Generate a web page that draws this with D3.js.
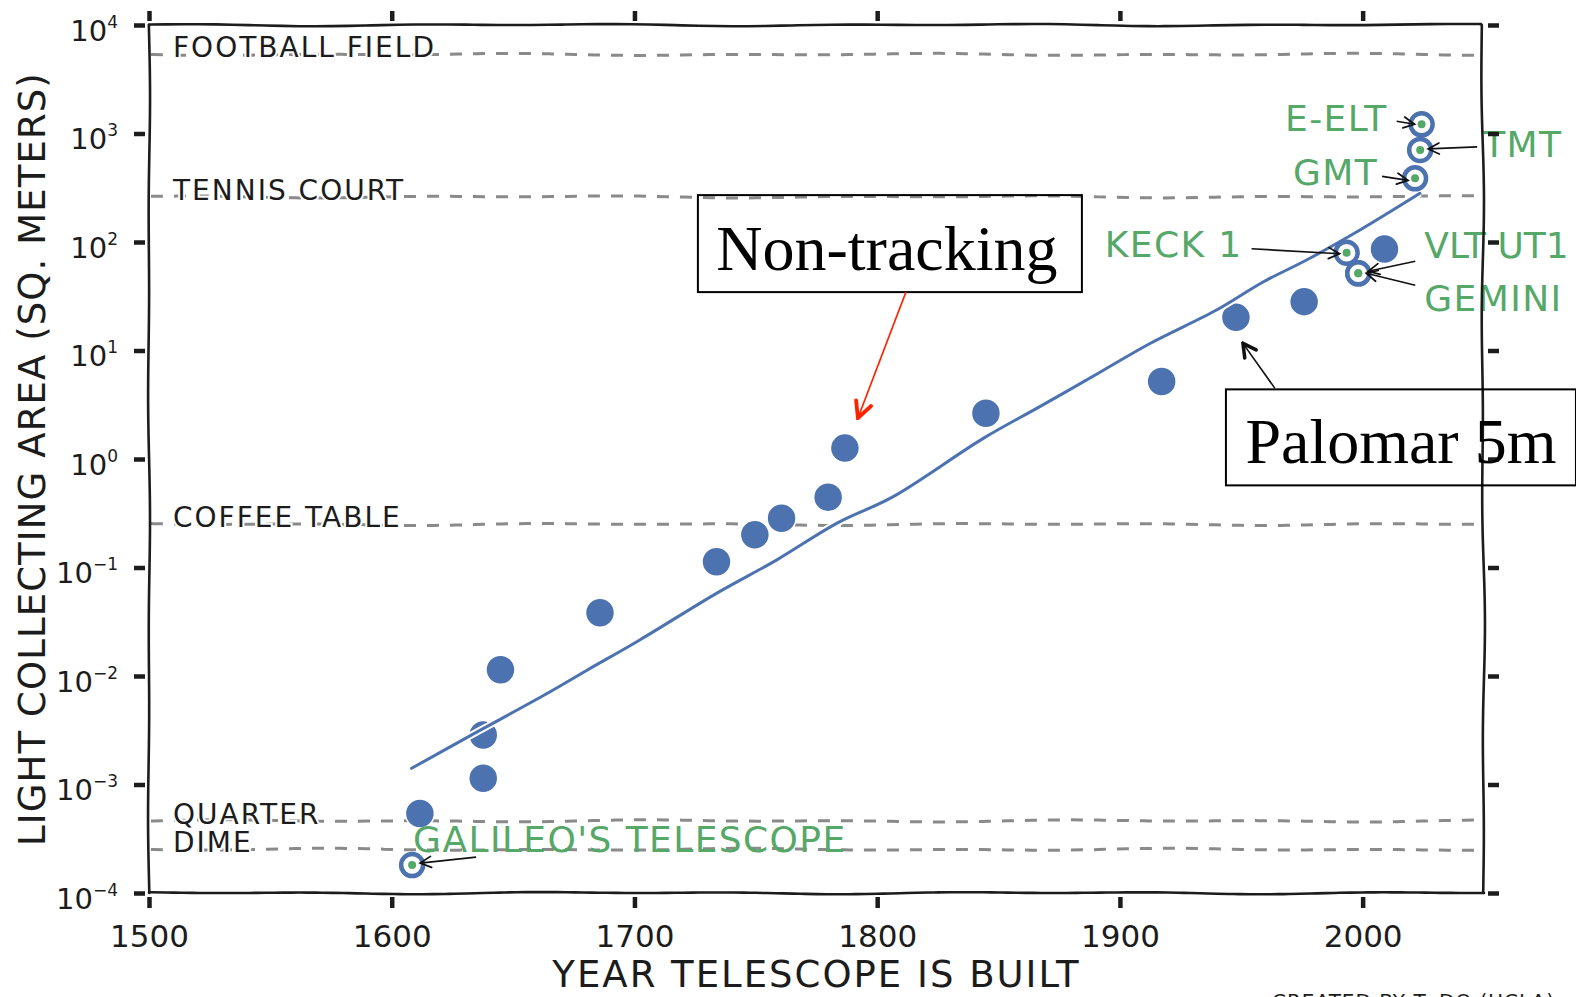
<!DOCTYPE html>
<html>
<head>
<meta charset="utf-8">
<script src="https://cdn.jsdelivr.net/npm/d3@7"></script>
<style>
  html, body { margin: 0; padding: 0; background: #fff; overflow: hidden; }
  svg { display: block; }
</style>
</head>
<body>
<div class="chart-section"></div>
<script>
const width = 1576, height = 997;
const marginLeft = 149, marginRight = 92, marginTop = 25, marginBottom = 104;

// telescopes shown as plain dots
const dotYears = [1611.6, 1637.7, 1637.7, 1644.8, 1685.8, 1733.8, 1749.6, 1760.6, 1779.8, 1786.7, 1844.8, 1917.2, 1947.8, 1975.9, 2009];
const dotAreas = [5.4e-4, 2.86e-3, 1.14e-3, 0.0114, 0.0383, 0.113, 0.2, 0.284, 0.444, 1.26, 2.64, 5.17, 20.2, 28.2, 86];

// trend line
const fitYears = [1608.2, 1636.3, 1663.8, 1680.3, 1702.2, 1733.8, 1758.5, 1783.3, 1806.6, 1843.7, 1867.0, 1891.8, 1912.4, 1939.8, 1959.0, 1976.9, 1998.9, 2023.6];
const fitAreas = [1.41e-3, 3.15e-3, 6.86e-3, 0.01125, 0.0215, 0.0578, 0.117, 0.255, 0.45, 1.55, 3.04, 6.3, 11.6, 23.6, 42.8, 68.2, 129, 281];

// reference areas
const refNames = ["FOOTBALL FIELD", "TENNIS COURT", "COFFEE TABLE", "QUARTER", "DIME"];
const refAreas = [5350, 261, 0.25, 4.62e-4, 2.52e-4];

// highlighted telescopes
const namedLabels = ["GALILEO'S TELESCOPE", "E-ELT", "TMT", "GMT", "KECK 1", "VLT UT1", "GEMINI"];
const namedYears = [1608.4, 2024.3, 2023.7, 2021.6, 1993.4, 1998.2, 1998.2];
const namedAreas = [1.81e-4, 1216, 705, 386, 79.6, 51.5, 51.5];

// boxed callouts
const boxLabels = ["Non-tracking", "Palomar 5m"];
const boxYears = [1786.7, 1947.8];
const boxAreas = [1.26, 20.2];

const xTicks = [1500, 1600, 1700, 1800, 1900, 2000];
const yExponents = [-4, -3, -2, -1, 0, 1, 2, 3, 4];
const xTitle = "YEAR TELESCOPE IS BUILT";
const yTitle = "LIGHT COLLECTING AREA (SQ. METERS)";
const credit = "CREATED BY T. DO (UCLA)";

const blue = "#4c72b0", green = "#55a868", ink = "#1c1c1c";
const hand = "'DejaVu Sans', sans-serif";

// label placement (pixel offsets from the marked point)
const calloutLayout = {
  "GALILEO'S TELESCOPE": { tx: 1, ty: -13, anchor: "start", from: [64, -8], to: [8, -2] },
  "E-ELT": { tx: -34, ty: 7, anchor: "end", from: [-25, -3], to: [-7, 0] },
  "TMT": { tx: 63, ty: 7, anchor: "start", from: [57, -3], to: [8, -1] },
  "GMT": { tx: -37, ty: 7, anchor: "end", from: [-33, -2], to: [-7, 2] },
  "KECK 1": { tx: -104, ty: 4, anchor: "end", from: [-95, -4], to: [-7, 1] },
  "VLT UT1": { tx: 66, ty: -15, anchor: "start", from: [57, -12], to: [10, -2] },
  "GEMINI": { tx: 66, ty: 38, anchor: "start", from: [57, 12], to: [8, 0] },
};
const boxLayout = {
  "Non-tracking": { x: -147, y: -253, w: 384, h: 97, tx: 42, ty: -178, from: [61, -156], to: [13, -30], color: "#ff2200", head: "head-red" },
  "Palomar 5m": { x: -10, y: 72, w: 350, h: 96, tx: 165, ty: 146, from: [39, 71], to: [7, 26], color: "#111", head: "head-black-big" },
};

const x = d3.scaleLinear().domain([1500, 2050]).range([marginLeft, width - marginRight]);
const y = d3.scaleLog().domain([1e-4, 1e4]).range([height - marginBottom, marginTop]);

const svg = d3.select(".chart-section").append("svg")
  .attr("width", width).attr("height", height);

const defs = svg.append("defs");
const addHead = (id, d, color, sw, size) => {
  defs.append("marker")
    .attr("id", id)
    .attr("viewBox", `${-size} ${-size / 2} ${size + 2} ${size}`)
    .attr("refX", 0).attr("refY", 0)
    .attr("markerWidth", size + 2).attr("markerHeight", size)
    .attr("markerUnits", "userSpaceOnUse")
    .attr("orient", "auto")
    .append("path").attr("d", d)
    .attr("fill", "none").attr("stroke", color)
    .attr("stroke-width", sw).attr("stroke-linecap", "round");
};
addHead("head-black", "M-11,-5.5L0,0L-11,5.5", "#111", 1.7, 14);
addHead("head-black-big", "M-13,-7L0,0L-13,7", "#111", 3.5, 20);
addHead("head-red", "M-16,-8L0,0L-16,8", "#ff2200", 3.8, 24);

// hand drawn wobble between two points
const wobble = (x1, y1, x2, y2, amp, seed) => {
  const len = Math.hypot(x2 - x1, y2 - y1);
  const nx = -(y2 - y1) / len, ny = (x2 - x1) / len;
  const pts = d3.range(81).map((i) => {
    const t = i / 80;
    const o = amp * Math.sin(t * len / 45 + seed) * Math.cos(t * len / 130 + seed * 2);
    return [x1 + (x2 - x1) * t + nx * o, y1 + (y2 - y1) * t + ny * o];
  });
  return d3.line().curve(d3.curveBasis)(pts);
};

const x0 = x.range()[0], x1 = x.range()[1];
const yTop = y.range()[1], yBot = y.range()[0];

// reference dashed lines
const refs = refNames.map((name, i) => ({ name, area: refAreas[i] }));
svg.append("g").selectAll("path").data(refs).enter().append("path")
  .attr("d", (d, i) => wobble(x0 + 2, y(d.area), x1 - 3, y(d.area), 1.2, i))
  .attr("fill", "none").attr("stroke", "#8a8a8a")
  .attr("stroke-width", 3).attr("stroke-dasharray", "12,11");

svg.append("g").selectAll("text").data(refs).enter().append("text")
  .attr("x", x0 + 24).attr("y", (d) => y(d.area) + 3)
  .attr("font-family", hand).attr("font-size", 28).attr("letter-spacing", 2)
  .attr("fill", ink).attr("stroke", "#fff").attr("stroke-width", 4)
  .attr("paint-order", "stroke")
  .text((d) => d.name);

// dots
const dots = dotYears.map((yr, i) => ({ year: yr, area: dotAreas[i] }));
svg.append("g").selectAll("circle").data(dots).enter().append("circle")
  .attr("cx", (d) => x(d.year)).attr("cy", (d) => y(d.area))
  .attr("r", 14.5).attr("fill", blue)
  .attr("stroke", "#fff").attr("stroke-width", 1.5);

// trend line
const fit = fitYears.map((yr, i) => [x(yr), y(fitAreas[i])]);
const fitLine = d3.line().curve(d3.curveCatmullRom);
svg.append("path").attr("d", fitLine(fit))
  .attr("fill", "none").attr("stroke", "#fff").attr("stroke-width", 7);
svg.append("path").attr("d", fitLine(fit))
  .attr("fill", "none").attr("stroke", blue).attr("stroke-width", 3)
  .attr("stroke-linecap", "round");

// highlighted telescopes
const named = namedLabels.map((label, i) => ({
  label, px: x(namedYears[i]), py: y(namedAreas[i]), lay: calloutLayout[label],
}));
const rings = svg.append("g");
rings.selectAll("circle.ring").data(named).enter().append("circle")
  .attr("class", "ring")
  .attr("cx", (d) => d.px).attr("cy", (d) => d.py).attr("r", 11)
  .attr("fill", "#fff").attr("stroke", blue).attr("stroke-width", 4.5);
rings.selectAll("circle.core").data(named).enter().append("circle")
  .attr("class", "core")
  .attr("cx", (d) => d.px).attr("cy", (d) => d.py).attr("r", 4)
  .attr("fill", green);

const callouts = svg.append("g");
callouts.selectAll("line").data(named).enter().append("line")
  .attr("x1", (d) => d.px + d.lay.from[0]).attr("y1", (d) => d.py + d.lay.from[1])
  .attr("x2", (d) => d.px + d.lay.to[0]).attr("y2", (d) => d.py + d.lay.to[1])
  .attr("stroke", "#111").attr("stroke-width", 1.7)
  .attr("marker-end", "url(#head-black)");
callouts.selectAll("text").data(named).enter().append("text")
  .attr("x", (d) => d.px + d.lay.tx).attr("y", (d) => d.py + d.lay.ty)
  .attr("text-anchor", (d) => d.lay.anchor)
  .attr("font-family", hand).attr("font-size", 36)
  .attr("letter-spacing", (d) => (d.label === "VLT UT1" ? 0 : 1.4))
  .attr("fill", green)
  .text((d) => d.label);

// axes: ticks on all four sides
const tickStyle = (g) => {
  g.select(".domain").remove();
  g.selectAll(".tick line").attr("stroke", ink).attr("stroke-width", 4.5);
};

const xAxisB = svg.append("g").attr("transform", `translate(0,${yBot})`)
  .call(d3.axisBottom(x).tickValues(xTicks).tickFormat(d3.format("d")));
tickStyle(xAxisB);
xAxisB.selectAll(".tick line").attr("y1", 4).attr("y2", 15);
xAxisB.selectAll(".tick text")
  .attr("y", 54).attr("dy", 0)
  .attr("font-family", hand).attr("font-size", 31).attr("fill", ink);

const xAxisT = svg.append("g").attr("transform", `translate(0,${yTop})`)
  .call(d3.axisTop(x).tickValues(xTicks).tickFormat(""));
tickStyle(xAxisT);
xAxisT.selectAll(".tick line").attr("y1", -4).attr("y2", -14);

const yVals = yExponents.map((e) => Math.pow(10, e));
const yAxisL = svg.append("g").attr("transform", `translate(${x0},0)`)
  .call(d3.axisLeft(y).tickValues(yVals).tickFormat(""));
tickStyle(yAxisL);
yAxisL.selectAll(".tick line").attr("x1", -4).attr("x2", -15);
yAxisL.selectAll(".tick text").each(function (d) {
  const t = d3.select(this)
    .attr("x", -31).attr("y", 0).attr("dy", 0)
    .attr("text-anchor", "end")
    .attr("font-family", hand).attr("fill", ink);
  const e = Math.round(Math.log10(d));
  t.append("tspan").attr("font-size", 29).attr("dy", 15).text("10");
  t.append("tspan").attr("font-size", 17).attr("dy", -13)
    .text(e < 0 ? "\u2212" + Math.abs(e) : String(e));
});

const yAxisR = svg.append("g").attr("transform", `translate(${x1},0)`)
  .call(d3.axisRight(y).tickValues(yVals).tickFormat(""));
tickStyle(yAxisR);
yAxisR.selectAll(".tick line").attr("x1", 4).attr("x2", 15);

// wobbly spines
const spines = [
  [x0, yTop, x1 - 3, yTop, 1.3, 1],
  [x0, yBot, x1, yBot, 1.3, 2],
  [x0, yTop, x0, yBot, 1.1, 3],
  [x1 - 2, yTop, x1, yBot, 1.6, 4],
];
svg.append("g").selectAll("path").data(spines).enter().append("path")
  .attr("d", (s) => wobble(...s))
  .attr("fill", "none").attr("stroke", ink).attr("stroke-width", 2.6)
  .attr("stroke-linecap", "round");

// axis titles
svg.append("text")
  .attr("x", (x0 + x1) / 2).attr("y", 987)
  .attr("text-anchor", "middle")
  .attr("font-family", hand).attr("font-size", 37).attr("letter-spacing", 2)
  .attr("fill", ink).text(xTitle);
svg.append("text")
  .attr("transform", `translate(45,${(yTop + yBot) / 2}) rotate(-90)`)
  .attr("text-anchor", "middle")
  .attr("font-family", hand).attr("font-size", 37).attr("letter-spacing", 1.1)
  .attr("fill", ink).text(yTitle);

// boxed callouts
const boxes = boxLabels.map((label, i) => ({
  label, px: x(boxYears[i]), py: y(boxAreas[i]), lay: boxLayout[label],
}));
const boxG = svg.append("g");
boxG.selectAll("rect").data(boxes).enter().append("rect")
  .attr("x", (d) => d.px + d.lay.x).attr("y", (d) => d.py + d.lay.y)
  .attr("width", (d) => d.lay.w).attr("height", (d) => d.lay.h)
  .attr("fill", "none").attr("stroke", "#000").attr("stroke-width", 2);
boxG.selectAll("text").data(boxes).enter().append("text")
  .attr("x", (d) => d.px + d.lay.tx).attr("y", (d) => d.py + d.lay.ty)
  .attr("text-anchor", "middle")
  .attr("font-family", "'Liberation Serif', 'Times New Roman', serif")
  .attr("font-size", 64).attr("fill", "#000")
  .text((d) => d.label);
boxG.selectAll("line").data(boxes).enter().append("line")
  .attr("x1", (d) => d.px + d.lay.from[0]).attr("y1", (d) => d.py + d.lay.from[1])
  .attr("x2", (d) => d.px + d.lay.to[0]).attr("y2", (d) => d.py + d.lay.to[1])
  .attr("stroke", (d) => d.lay.color).attr("stroke-width", 1.6)
  .attr("marker-end", (d) => `url(#${d.lay.head})`);

// credit, cut by the bottom edge as in the original
svg.append("text")
  .attr("x", 1272).attr("y", 1008)
  .attr("font-family", hand).attr("font-size", 20).attr("letter-spacing", 1)
  .attr("fill", ink).text(credit);
</script>
</body>
</html>
